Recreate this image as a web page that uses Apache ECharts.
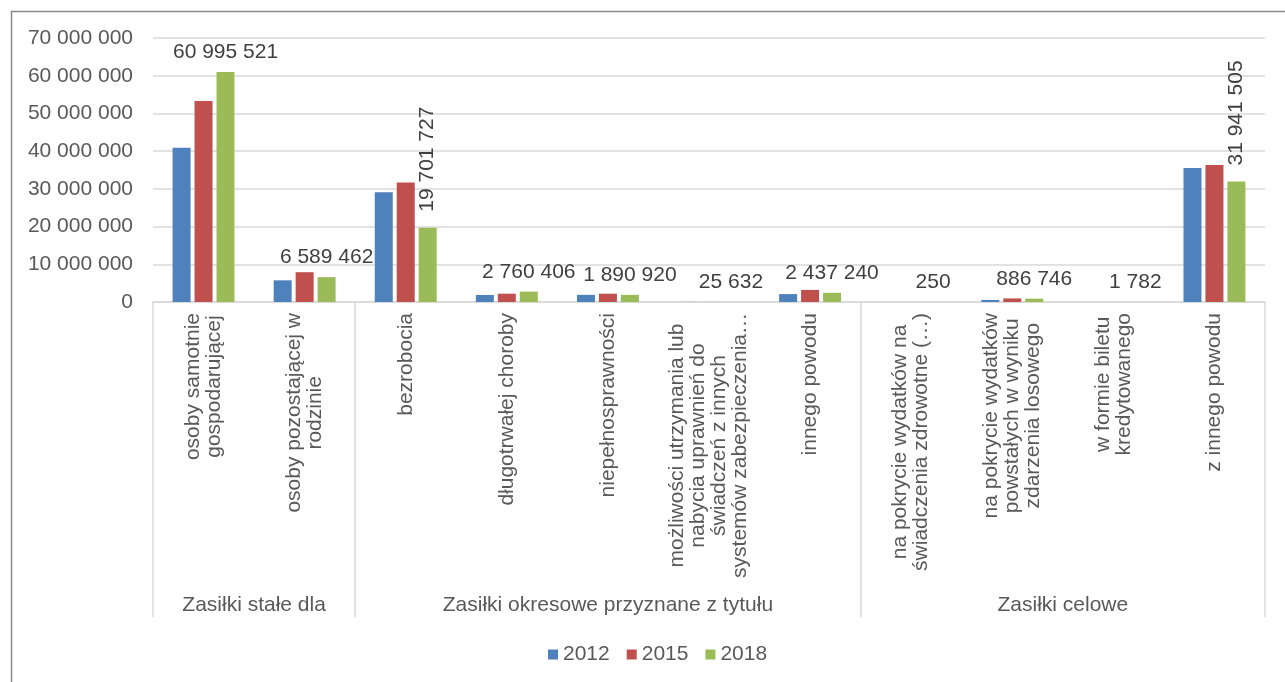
<!DOCTYPE html>
<html>
<head>
<meta charset="utf-8">
<script src="https://cdn.jsdelivr.net/npm/echarts@6/dist/echarts.min.js"></script>
<style>
  html, body { margin: 0; padding: 0; background: #ffffff; }
  #chart { width: 1285px; height: 682px; }
</style>
</head>
<body>
<div id="chart"></div>
<script>
// ---- data ----
const categories = [
  'osoby samotnie\ngospodarującej',
  'osoby pozostającej w\nrodzinie',
  'bezrobocia',
  'długotrwałej choroby',
  'niepełnosprawności',
  'możliwości utrzymania lub\nnabycia uprawnień do\nświadczeń z innych\nsystemów zabezpieczenia…',
  'innego powodu',
  'na pokrycie wydatków na\nświadczenia zdrowotne (…)',
  'na pokrycie wydatków\npowstałych w wyniku\nzdarzenia losowego',
  'w formie biletu\nkredytowanego',
  'z innego powodu'
];
const groupNames = ['Zasiłki stałe dla', 'Zasiłki okresowe przyznane z tytułu', 'Zasiłki celowe'];
const groupSizes = [2, 5, 4];
const seriesNames = ['2012', '2015', '2018'];
const values2012 = [40900000, 5750000, 29100000, 1860000, 1900000, 30000, 2100000, 600, 550000, 2500, 35500000];
const values2015 = [53300000, 7900000, 31700000, 2200000, 2200000, 20000, 3200000, 400, 950000, 2000, 36300000];
const values2018 = [60995521, 6589462, 19701727, 2760406, 1890920, 25632, 2437240, 250, 886746, 1782, 31941505];
const yTicks = { min: 0, max: 70000000, interval: 10000000 };
const rotatedLabelIdx = [2, 10];

// ---- helpers ----
const FONT = 'Liberation Sans, Arial, sans-serif';
function fmt(v) { return String(Math.round(v)).replace(/\B(?=(\d{3})+(?!\d))/g, ' '); }

// group boundary indices and label axis
const groupStarts = [];
let acc = 0;
groupSizes.forEach(s => { groupStarts.push(acc); acc += s; });
const halfSlots = [];
for (let k = 0; k <= categories.length * 2; k++) halfSlots.push('');
acc = 0;
groupSizes.forEach((s, i) => { halfSlots[acc * 2 + s] = groupNames[i]; acc += s; });

const colors = ['#4f81bd', '#c0504d', '#9bbb59'];

const chart = echarts.init(document.getElementById('chart'), null, { renderer: 'canvas' });
chart.setOption({
  animation: false,
  backgroundColor: '#ffffff',
  textStyle: { fontFamily: FONT },
  graphic: [{
    type: 'rect', left: 9, top: 9, silent: true,
    shape: { width: 1300, height: 700 },
    style: { fill: 'none', stroke: '#898989', lineWidth: 1.5 }
  }],
  grid: { left: 153, right: 20, top: 38, bottom: 380, containLabel: false },
  legend: {
    data: seriesNames, left: 543, top: 639,
    icon: 'rect', itemWidth: 10, itemHeight: 10, itemGap: 17,
    textStyle: { fontSize: 21, color: '#595959', fontFamily: FONT }
  },
  xAxis: [{
    type: 'category', data: categories, position: 'bottom',
    axisLine: { show: true, lineStyle: { color: '#d9d9d9', width: 1.5 } },
    axisTick: {
      show: true, length: 315,
      interval: (i) => groupStarts.indexOf(i) >= 0,
      lineStyle: { color: '#d9d9d9', width: 1.5 }
    },
    axisLabel: {
      interval: 0, rotate: 90, margin: 11,
      fontSize: 21, color: '#595959', fontFamily: FONT, lineHeight: 21,
      formatter: (v) => v.split('\n').map(l => '{c|' + l + '}').join('\n'),
      rich: { c: { align: 'center', fontSize: 21, color: '#595959', lineHeight: 21, fontFamily: FONT } }
    },
    splitLine: { show: false }
  }, {
    type: 'category', data: halfSlots, position: 'bottom', offset: 285,
    boundaryGap: false,
    axisLine: { show: false }, axisTick: { show: false }, splitLine: { show: false },
    axisLabel: { interval: 0, margin: 8, fontSize: 21, color: '#595959', fontFamily: FONT }
  }],
  yAxis: {
    type: 'value', min: yTicks.min, max: yTicks.max, interval: yTicks.interval,
    axisLine: { show: false }, axisTick: { show: false },
    axisLabel: { fontSize: 21, color: '#595959', margin: 20, fontFamily: FONT, formatter: fmt },
    splitLine: { lineStyle: { color: '#d9d9d9', width: 1.5 } }
  },
  series: [
    { name: seriesNames[0], type: 'bar', xAxisIndex: 0, data: values2012, barWidth: 18, barGap: '22%',
      itemStyle: { color: colors[0] } },
    { name: seriesNames[1], type: 'bar', xAxisIndex: 0, data: values2015, barWidth: 18, barGap: '22%',
      itemStyle: { color: colors[1] } },
    { name: seriesNames[2], type: 'bar', xAxisIndex: 0, barWidth: 18, barGap: '22%',
      itemStyle: { color: colors[2] },
      label: { show: true, position: 'top', distance: 9, fontSize: 21, color: '#404040', fontFamily: FONT,
               formatter: (p) => fmt(p.value) },
      data: values2018.map((v, i) => rotatedLabelIdx.indexOf(i) >= 0
        ? { value: v, label: { rotate: 90, align: 'left', verticalAlign: 'middle', distance: 16 } }
        : v)
    }
  ]
});
</script>
</body>
</html>
